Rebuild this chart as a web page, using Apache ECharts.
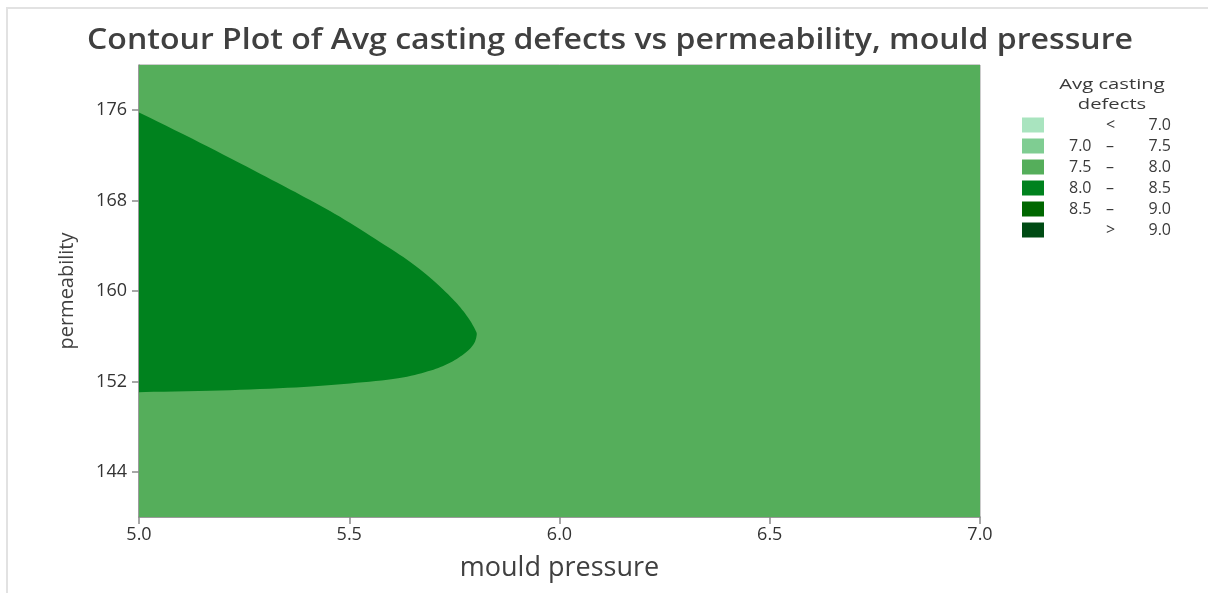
<!DOCTYPE html>
<html>
<head>
<meta charset="utf-8">
<script src="https://cdn.jsdelivr.net/npm/echarts@6/dist/echarts.min.js"></script>
<style>
  html, body { margin: 0; padding: 0; background: #fff; }
  #chart { width: 1208px; height: 593px; }
</style>
</head>
<body>
<div id="chart"></div>
<script>
// Axis ranges and tick values
const pressureRange = [5.0, 7.0];
const permeabilityRange = [140, 180];
const pressureTicks = [5.0, 5.5, 6.0, 6.5, 7.0];
const permeabilityTicks = [144, 152, 160, 168, 176];

// Contour levels (legend classes)
const levelNames = ['< 7.0', '7.0 – 7.5', '7.5 – 8.0', '8.0 – 8.5', '8.5 – 9.0', '> 9.0'];
const levelColors = ['#A9E4BF', '#7FCD92', '#55AE5B', '#00821E', '#006700', '#004B14'];

// Boundary of the 8.0 – 8.5 region (mould pressure, permeability),
// traced from the top of the left edge round to its bottom
const boundaryPressure = [5.0, 5.145, 5.288, 5.383, 5.478, 5.573, 5.645, 5.704, 5.751, 5.782,
                          5.799, 5.803, 5.794, 5.768, 5.732, 5.687, 5.616, 5.502, 5.373, 5.193, 5.0];
const boundaryPermeability = [175.8, 173.13, 170.38, 168.52, 166.56, 164.34, 162.57, 160.79, 159.10, 157.68,
                              156.61, 156.08, 155.19, 154.30, 153.51, 152.89, 152.27, 151.82, 151.47, 151.20, 151.05];

// The whole domain sits in the 7.5 – 8.0 class
const domainPressure = [pressureRange[0], pressureRange[1], pressureRange[1], pressureRange[0]];
const domainPermeability = [permeabilityRange[0], permeabilityRange[0], permeabilityRange[1], permeabilityRange[1]];

function zipPoints(xs, ys) {
  return xs.map((x, i) => [x, ys[i]]);
}

// Catmull-Rom smoothing of an open pixel path (end points kept)
function smoothPath(pts, steps) {
  const out = [pts[0]];
  for (let i = 0; i < pts.length - 1; i++) {
    const p0 = pts[Math.max(i - 1, 0)], p1 = pts[i], p2 = pts[i + 1], p3 = pts[Math.min(i + 2, pts.length - 1)];
    for (let s = 1; s <= steps; s++) {
      const t = s / steps, t2 = t * t, t3 = t2 * t;
      out.push([0, 1].map(k => 0.5 * ((2 * p1[k]) + (-p0[k] + p2[k]) * t +
        (2 * p0[k] - 5 * p1[k] + 4 * p2[k] - p3[k]) * t2 +
        (-p0[k] + 3 * p1[k] - 3 * p2[k] + p3[k]) * t3)));
    }
  }
  return out;
}

const regionsByLevel = {
  '7.5 – 8.0': { pts: zipPoints(domainPressure, domainPermeability), smooth: false },
  '8.0 – 8.5': { pts: zipPoints(boundaryPressure, boundaryPermeability), smooth: true }
};

const FONT = 'Open Sans';

const series = levelNames.map((name, i) => {
  const region = regionsByLevel[name];
  return {
    type: 'custom',
    name: name,
    coordinateSystem: 'cartesian2d',
    itemStyle: { color: levelColors[i] },
    silent: true,
    z: 2 + i,
    clip: true,
    data: region ? [0] : [],
    renderItem: function (params, api) {
      let poly = region.pts.map(p => api.coord(p));
      if (region.smooth) poly = smoothPath(poly, 8);
      return {
        type: 'polygon',
        shape: { points: poly },
        style: { fill: levelColors[i], stroke: null }
      };
    }
  };
});

// Legend rows: "lower – upper", or "< / >" with a single bound
function legendFormatter(name) {
  if (name.startsWith('<')) return '{lo| }{op|<}{hi|' + name.slice(2) + '}';
  if (name.startsWith('>')) return '{lo| }{op|>}{hi|' + name.slice(2) + '}';
  const parts = name.split(' – ');
  return '{lo|' + parts[0] + '}{op|–}{hi|' + parts[1] + '}';
}

const legendRich = { fontFamily: FONT, fontSize: 16, color: '#3a3a3a', lineHeight: 15 };

const chart = echarts.init(document.getElementById('chart'));
chart.setOption({
  backgroundColor: '#ffffff',
  animation: false,
  grid: {
    left: 139, right: 228, top: 65, bottom: 76,
    show: true,
    borderColor: '#9a9a9a',
    borderWidth: 1,
    backgroundColor: 'transparent'
  },
  xAxis: {
    type: 'value',
    min: pressureRange[0],
    max: pressureRange[1],
    interval: 0.5,
    name: 'mould pressure',
    nameLocation: 'middle',
    nameGap: 38,
    nameTextStyle: { fontFamily: FONT, fontSize: 27, color: '#404040' },
    axisLine: { show: true, onZero: false, lineStyle: { color: '#8a8a8a', width: 1.5 } },
    axisTick: { show: true, length: 7, customValues: pressureTicks, lineStyle: { color: '#8a8a8a', width: 1.5 } },
    axisLabel: {
      customValues: pressureTicks,
      margin: 9,
      formatter: v => v.toFixed(1),
      fontFamily: FONT, fontSize: 18, color: '#333'
    },
    splitLine: { show: false }
  },
  yAxis: {
    type: 'value',
    min: permeabilityRange[0],
    max: permeabilityRange[1],
    interval: 4,
    name: 'permeability',
    nameLocation: 'middle',
    nameGap: 62,
    nameTextStyle: { fontFamily: FONT, fontSize: 20, color: '#404040' },
    axisLine: { show: true, onZero: false, lineStyle: { color: '#8a8a8a', width: 1.5 } },
    axisTick: { show: true, length: 7, customValues: permeabilityTicks, lineStyle: { color: '#8a8a8a', width: 1.5 } },
    axisLabel: {
      customValues: permeabilityTicks,
      margin: 12,
      fontFamily: FONT, fontSize: 18, color: '#333'
    },
    splitLine: { show: false }
  },
  legend: {
    orient: 'vertical',
    left: 1017,
    top: 112,
    itemWidth: 22,
    itemHeight: 15,
    itemGap: 5,
    icon: 'rect',
    selectedMode: false,
    data: levelNames,
    formatter: legendFormatter,
    textStyle: Object.assign({}, legendRich, {
      rich: {
        lo: Object.assign({ width: 37, align: 'left', padding: [0, 0, 0, 20] }, legendRich),
        op: Object.assign({ width: 20, align: 'left' }, legendRich),
        hi: Object.assign({ width: 45, align: 'right' }, legendRich)
      }
    })
  },
  graphic: [
    {
      type: 'text',
      x: 610,
      y: 41,
      scaleX: 1.145,
      style: {
        text: 'Contour Plot of Avg casting defects vs permeability, mould pressure',
        align: 'center',
        verticalAlign: 'middle',
        font: '600 28px "Open Sans"',
        fill: '#404040'
      }
    },
    {
      type: 'text',
      x: 1112,
      y: 95,
      scaleX: 1.35,
      style: {
        text: 'Avg casting\ndefects',
        align: 'center',
        verticalAlign: 'middle',
        lineHeight: 20,
        font: '15px "Open Sans"',
        fill: '#3a3a3a'
      }
    },
    {
      type: 'polyline',
      shape: { points: [[7, 593], [7, 8], [1208, 8]] },
      style: { stroke: '#e2e2e2', lineWidth: 2, fill: null },
      silent: true
    }
  ],
  series: series
});
</script>
</body>
</html>
